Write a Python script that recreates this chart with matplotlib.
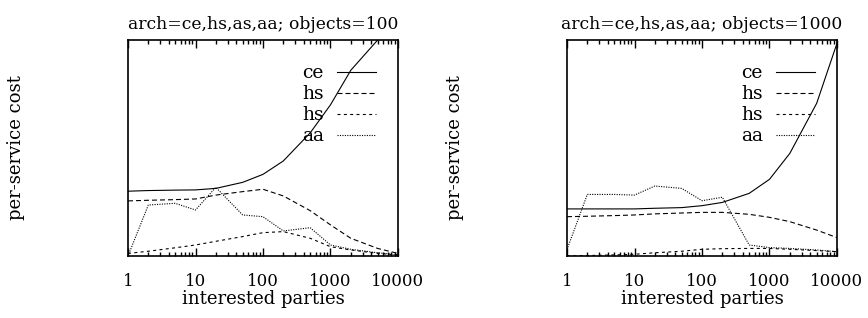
import numpy as np
import matplotlib
matplotlib.use('Agg')
import matplotlib.pyplot as plt
from matplotlib.ticker import LogLocator, NullFormatter, FixedLocator, FixedFormatter

# interested parties (x values shared by all curves)
parties = [1, 2, 5, 10, 20, 50, 100, 200, 500, 1000, 2000, 5000, 10000]
labels = ['ce', 'hs', 'hs', 'aa']
titles = ['arch=ce,hs,as,aa; objects=100', 'arch=ce,hs,as,aa; objects=1000']

# relative per-service cost, objects=100
ce_100 = [0.30, 0.303, 0.305, 0.306, 0.313, 0.341, 0.378, 0.44, 0.57, 0.70, 0.86, 1.0, 1.15]
hs_100 = [0.255, 0.258, 0.261, 0.264, 0.282, 0.298, 0.309, 0.278, 0.21, 0.144, 0.082, 0.035, 0.012]
as_100 = [0.012, 0.022, 0.038, 0.051, 0.068, 0.09, 0.108, 0.113, 0.082, 0.043, 0.028, 0.012, 0.005]
aa_100 = [0.0, 0.236, 0.244, 0.213, 0.318, 0.19, 0.182, 0.116, 0.131, 0.051, 0.031, 0.015, 0.005]

# relative per-service cost, objects=1000
ce_1000 = [0.218, 0.218, 0.218, 0.218, 0.221, 0.224, 0.233, 0.248, 0.29, 0.355, 0.475, 0.707, 0.985]
hs_1000 = [0.182, 0.184, 0.187, 0.19, 0.195, 0.199, 0.202, 0.202, 0.193, 0.179, 0.159, 0.12, 0.085]
as_1000 = [0.0, 0.002, 0.005, 0.008, 0.015, 0.022, 0.031, 0.034, 0.035, 0.035, 0.031, 0.025, 0.02]
aa_1000 = [0.03, 0.285, 0.285, 0.282, 0.324, 0.313, 0.256, 0.272, 0.051, 0.039, 0.035, 0.028, 0.02]

series = [[ce_100, hs_100, as_100, aa_100],
          [ce_1000, hs_1000, as_1000, aa_1000]]

styles = [dict(linestyle='-'),
          dict(linestyle=(0, (4.5, 2.7))),
          dict(linestyle=(0, (2.7, 3.0))),
          dict(linestyle=(0, (1, 1.2)))]

plt.rcParams['font.family'] = ['DejaVu Serif']

fig = plt.figure(figsize=(8.68, 3.18), dpi=100)
lefts = [128 / 868, 567 / 868]

for k in range(2):
    ax = fig.add_axes([lefts[k], 62 / 318, 270 / 868, 216 / 318])
    for ys, lab, st in zip(series[k], labels, styles):
        ax.plot(parties, ys, color='black', linewidth=0.8, label=lab, **st)
    ax.set_xscale('log')
    ax.set_xlim(1, 10000)
    ax.set_ylim(0, 1)
    ax.xaxis.set_major_locator(FixedLocator([1, 10, 100, 1000, 10000]))
    ax.xaxis.set_major_formatter(FixedFormatter(['1', '10', '100', '1000', '10000']))
    ax.xaxis.set_minor_locator(LogLocator(base=10, subs=np.arange(2, 10)))
    ax.xaxis.set_minor_formatter(NullFormatter())
    ax.set_yticks([])
    ax.tick_params(axis='x', which='both', direction='in', top=True,
                   labelsize=12, pad=12)
    ax.tick_params(axis='x', which='major', length=6, width=1)
    ax.tick_params(axis='x', which='minor', length=3, width=1)
    for sp in ax.spines.values():
        sp.set_linewidth(1.2)
    ax.set_title(titles[k], fontsize=12.3, pad=8)
    ax.set_xlabel('interested parties', fontsize=13, labelpad=0)
    ax.set_ylabel('per-service cost', fontsize=13)
    ax.yaxis.set_label_coords(-0.38, 0.5)
    leg = ax.legend(loc='upper right', bbox_to_anchor=(0.955, 0.93), frameon=False,
                    markerfirst=False, fontsize=13.5, handlelength=2.1,
                    handletextpad=0.7, labelspacing=0.16, borderpad=0)

fig.savefig('out.png', dpi=100)
